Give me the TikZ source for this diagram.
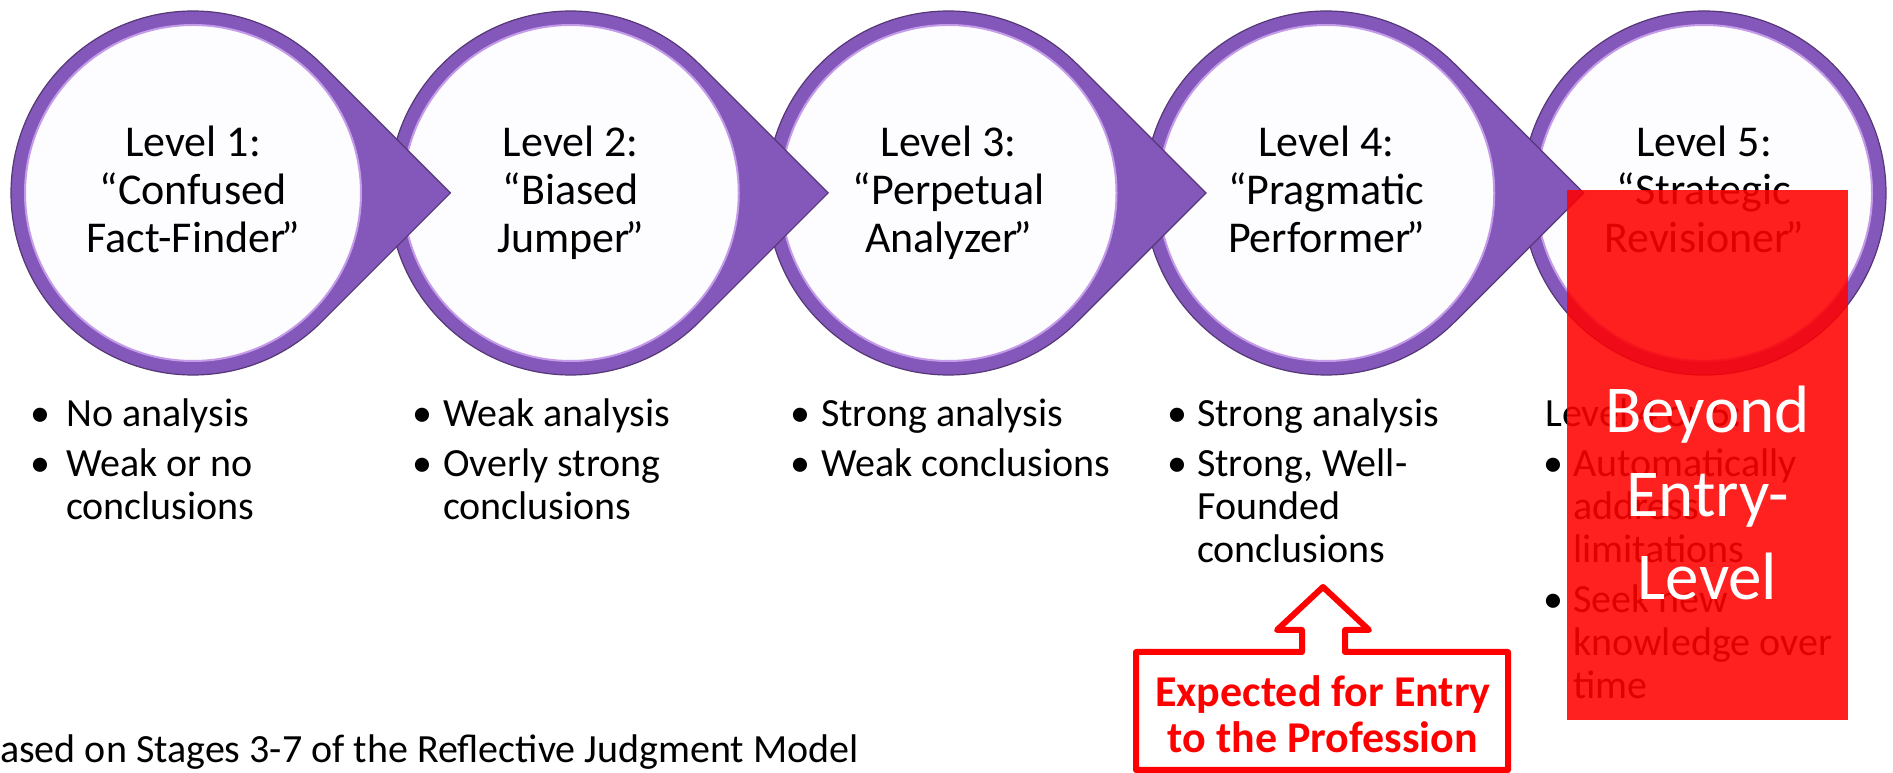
\documentclass[tikz,border=0pt]{standalone}
\usepackage{fontspec}
\setmainfont{Carlito}
\definecolor{stagec}{HTML}{8358BA}
\definecolor{edgec}{HTML}{563777}
\definecolor{rimc}{HTML}{C49BE8}
\definecolor{innerc}{HTML}{FDFCFE}
\definecolor{alertred}{HTML}{FF0000}
% white interior and light rim of one stage disc
\newcommand\stagebody[1]{%
  \fill[innerc] (#1,580) circle[radius=168];
  \draw[rimc, line width=2pt] (#1,580) circle[radius=168];}
% stage disc with a pointer to the next stage
\newcommand\stagearrow[1]{%
  \filldraw[stagec, draw=edgec, line width=1.2pt]
    (#1+128.7,708.7) -- (#1+257.4,580) -- (#1+128.7,451.3)
    arc[start angle=-45, end angle=-315, radius=182] -- cycle;
  \stagebody{#1}}
% closing quote set tight to the word before it
\newcommand\cq{\kern-.1em”}
\begin{document}
\begin{tikzpicture}[x=1pt, y=1pt,
  lvl/.style={anchor=base, inner sep=0pt, font=\fontsize{44}{48}\selectfont},
  bul/.style={anchor=base, inner sep=0pt, font=\fontsize{40}{44}\selectfont},
  itm/.style={anchor=base west, inner sep=0pt, font=\fontsize{40}{44}\selectfont},
  callout/.style={draw=alertred, line width=6pt, line join=round},
  calltext/.style={anchor=base, inner sep=0pt, text=alertred, font=\fontsize{44}{48}\selectfont\bfseries},
  beyond/.style={anchor=base, inner sep=0pt, text=white, font=\fontsize{67}{82}\selectfont},
]
\path[use as bounding box, fill=white] (0,0) rectangle (1893,773);

% stage discs, last one first so each pointer lies over the next disc
\filldraw[stagec, draw=edgec, line width=1.2pt] (1704,580) circle[radius=182];
\stagebody{1704}
\stagearrow{1326.25}
\stagearrow{948.5}
\stagearrow{570.75}
\stagearrow{193}

% stage titles
\node[lvl] (t1a) at (193,616) {Level 1:};
\node[lvl] (t1b) at (193,568) {“Confused};
\node[lvl] (t1c) at (193,520) {Fact-Finder\cq};
\node[lvl] (t2a) at (570.75,616) {Level 2:};
\node[lvl] (t2b) at (570.75,568) {“Biased};
\node[lvl] (t2c) at (570.75,520) {Jumper\cq};
\node[lvl] (t3a) at (948.5,616) {Level 3:};
\node[lvl] (t3b) at (948.5,568) {“Perpetual};
\node[lvl] (t3c) at (948.5,520) {Analyzer\cq};
\node[lvl] (t4a) at (1326.25,616) {Level 4:};
\node[lvl] (t4b) at (1326.25,568) {“Pragmatic};
\node[lvl] (t4c) at (1326.25,520) {Performer\cq};
\node[lvl] (t5a) at (1704,616) {Level 5:};
\node[lvl] (t5b) at (1704,568) {“Strategic};
\node[lvl] (t5c) at (1704,520) {Revisioner\cq};

% descriptions under each stage
\node[bul] (b1a) at (40,346) {•};
\node[itm] (d1a) at (66,346) {No analysis};
\node[bul] (b1b) at (40,296) {•};
\node[itm] (d1b) at (66,296) {Weak or no};
\node[itm] (d1c) at (66,253) {conclusions};

\node[bul] (b2a) at (422,346) {•};
\node[itm] (d2a) at (443,346) {Weak analysis};
\node[bul] (b2b) at (422,296) {•};
\node[itm] (d2b) at (443,296) {Overly strong};
\node[itm] (d2c) at (443,253) {conclusions};

\node[bul] (b3a) at (800,346) {•};
\node[itm] (d3a) at (821,346) {Strong analysis};
\node[bul] (b3b) at (800,296) {•};
\node[itm] (d3b) at (821,296) {Weak conclusions};

\node[bul] (b4a) at (1177,346) {•};
\node[itm] (d4a) at (1197,346) {Strong analysis};
\node[bul] (b4b) at (1177,296) {•};
\node[itm] (d4b) at (1197,296) {Strong, Well-};
\node[itm] (d4c) at (1197,253) {Founded};
\node[itm] (d4d) at (1197,210) {conclusions};

\node[itm] (h5) at (1545,346) {Level 4 or 5:};
\node[bul] (b5a) at (1553,296) {•};
\node[itm] (d5a) at (1573,296) {Automatically};
\node[itm] (d5b) at (1573,253) {address};
\node[itm] (d5c) at (1573,210) {limitations};
\node[bul] (b5b) at (1553,160) {•};
\node[itm] (d5d) at (1573,160) {Seek new};
\node[itm] (d5e) at (1573,117) {knowledge over};
\node[itm] (d5f) at (1573,74) {time};

% translucent band over the last stage
\fill[alertred, fill opacity=0.875] (1567,53) rectangle (1848,583);
\node[beyond] (by1) at (1707.5,340) {Beyond};
\node[beyond] (by2) at (1707.5,256) {Entry-};
\node[beyond] (by3) at (1707.5,173) {Level};

% callout pointing up at the fourth stage
\draw[callout] (1136,3) -- (1136,121) -- (1302,121) -- (1302,143) -- (1277,143)
  -- (1323,186) -- (1369,143) -- (1345,143) -- (1345,121) -- (1508,121)
  -- (1508,3) -- cycle;
\node[calltext] (ex1) at (1323,66) {Expected for Entry};
\node[calltext] (ex2) at (1323,20) {to the Profession};

% source note
\node[itm] (src) at (0,10) {ased on Stages 3-7 of the Reflective Judgment Model};
\end{tikzpicture}
\end{document}
